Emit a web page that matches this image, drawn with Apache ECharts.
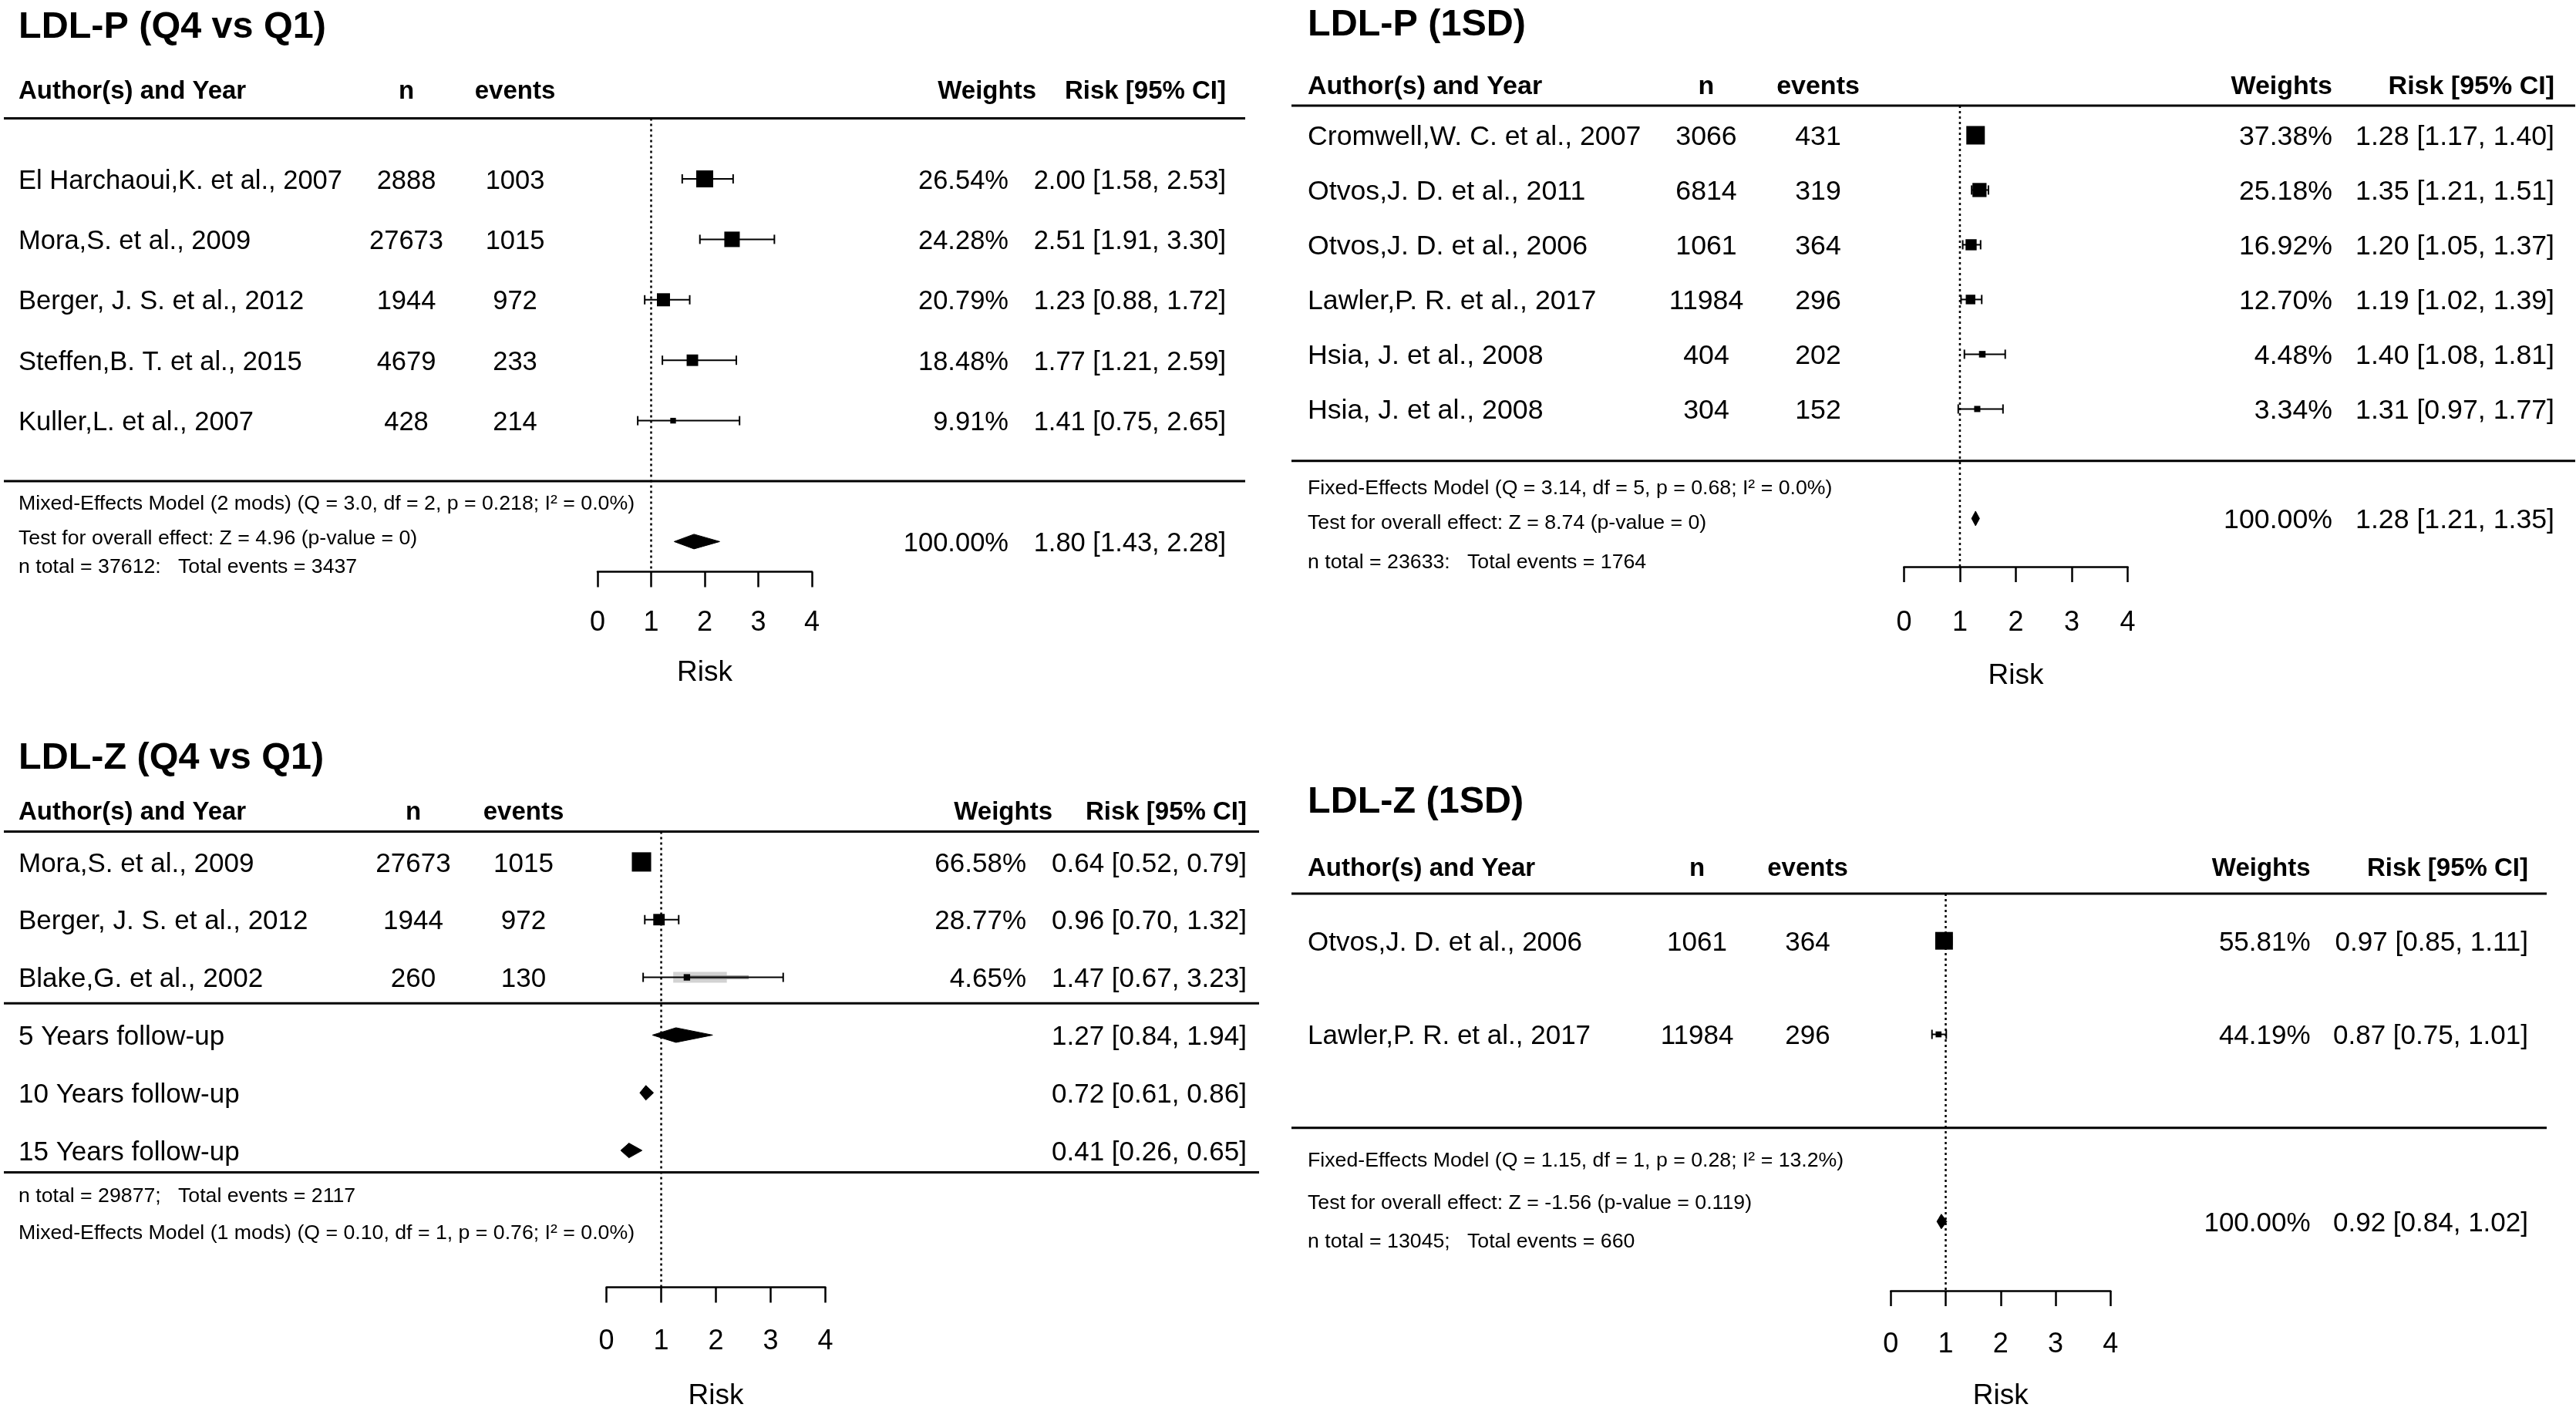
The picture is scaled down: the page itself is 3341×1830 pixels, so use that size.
<!DOCTYPE html>
<html><head><meta charset="utf-8">
<script src="https://cdn.jsdelivr.net/npm/echarts@6/dist/echarts.min.js"></script>
<style>html,body{margin:0;padding:0;background:#fff}#c{width:3341px;height:1830px}</style>
</head><body><div id="c"></div><script>
// ---------- DATA ----------
const titles = ['LDL-P (Q4 vs Q1)', 'LDL-P (1SD)', 'LDL-Z (Q4 vs Q1)', 'LDL-Z (1SD)'];
const headerLabels = ['Author(s) and Year', 'n', 'events', 'Weights', 'Risk [95% CI]'];
const axisName = 'Risk';
const refValue = 1;

// Panel 1: LDL-P (Q4 vs Q1)
const p1Authors = ['El Harchaoui,K. et al., 2007', 'Mora,S. et al., 2009', 'Berger, J. S. et al., 2012', 'Steffen,B. T. et al., 2015', 'Kuller,L. et al., 2007'];
const p1N = [2888, 27673, 1944, 4679, 428];
const p1Events = [1003, 1015, 972, 233, 214];
const p1Weights = [26.54, 24.28, 20.79, 18.48, 9.91];
const p1Est = [2.00, 2.51, 1.23, 1.77, 1.41];
const p1Lo = [1.58, 1.91, 0.88, 1.21, 0.75];
const p1Hi = [2.53, 3.30, 1.72, 2.59, 2.65];
const p1SumName = [''];
const p1SumWeight = ['100.00%'];
const p1SumEst = [1.80];
const p1SumLo = [1.43];
const p1SumHi = [2.28];
const p1Notes = ['Mixed-Effects Model (2 mods) (Q = 3.0, df = 2, p = 0.218; I\u00B2 = 0.0%)', 'Test for overall effect: Z = 4.96 (p-value = 0)', 'n total = 37612:   Total events = 3437'];

// Panel 2: LDL-P (1SD)
const p2Authors = ['Cromwell,W. C. et al., 2007', 'Otvos,J. D. et al., 2011', 'Otvos,J. D. et al., 2006', 'Lawler,P. R. et al., 2017', 'Hsia, J. et al., 2008', 'Hsia, J. et al., 2008'];
const p2N = [3066, 6814, 1061, 11984, 404, 304];
const p2Events = [431, 319, 364, 296, 202, 152];
const p2Weights = [37.38, 25.18, 16.92, 12.70, 4.48, 3.34];
const p2Est = [1.28, 1.35, 1.20, 1.19, 1.40, 1.31];
const p2Lo = [1.17, 1.21, 1.05, 1.02, 1.08, 0.97];
const p2Hi = [1.40, 1.51, 1.37, 1.39, 1.81, 1.77];
const p2SumName = [''];
const p2SumWeight = ['100.00%'];
const p2SumEst = [1.28];
const p2SumLo = [1.21];
const p2SumHi = [1.35];
const p2Notes = ['Fixed-Effects Model (Q = 3.14, df = 5, p = 0.68; I\u00B2 = 0.0%)', 'Test for overall effect: Z = 8.74 (p-value = 0)', 'n total = 23633:   Total events = 1764'];

// Panel 3: LDL-Z (Q4 vs Q1)
const p3Authors = ['Mora,S. et al., 2009', 'Berger, J. S. et al., 2012', 'Blake,G. et al., 2002'];
const p3N = [27673, 1944, 260];
const p3Events = [1015, 972, 130];
const p3Weights = [66.58, 28.77, 4.65];
const p3Est = [0.64, 0.96, 1.47];
const p3Lo = [0.52, 0.70, 0.67];
const p3Hi = [0.79, 1.32, 3.23];
const p3SumName = ['5 Years follow-up', '10 Years follow-up', '15 Years follow-up'];
const p3SumWeight = ['', '', ''];
const p3SumEst = [1.27, 0.72, 0.41];
const p3SumLo = [0.84, 0.61, 0.26];
const p3SumHi = [1.94, 0.86, 0.65];
const p3Notes = ['n total = 29877;   Total events = 2117', 'Mixed-Effects Model (1 mods) (Q = 0.10, df = 1, p = 0.76; I\u00B2 = 0.0%)'];
const p3BlakeBand = [[1.22, 2.20], [1.50, 2.60]];

// Panel 4: LDL-Z (1SD)
const p4Authors = ['Otvos,J. D. et al., 2006', 'Lawler,P. R. et al., 2017'];
const p4N = [1061, 11984];
const p4Events = [364, 296];
const p4Weights = [55.81, 44.19];
const p4Est = [0.97, 0.87];
const p4Lo = [0.85, 0.75];
const p4Hi = [1.11, 1.01];
const p4SumName = [''];
const p4SumWeight = ['100.00%'];
const p4SumEst = [0.92];
const p4SumLo = [0.84];
const p4SumHi = [1.02];
const p4Notes = ['Fixed-Effects Model (Q = 1.15, df = 1, p = 0.28; I\u00B2 = 13.2%)', 'Test for overall effect: Z = -1.56 (p-value = 0.119)', 'n total = 13045;   Total events = 660'];

// ---------- LAYOUT ----------
const FF = '"Liberation Sans", Arial, Helvetica, sans-serif';
const TY = 3; // text baseline nudge (px)
const panels = [
  {authors:p1Authors,n:p1N,events:p1Events,weights:p1Weights,est:p1Est,lo:p1Lo,hi:p1Hi,
   sumName:p1SumName,sumWeight:p1SumWeight,sumEst:p1SumEst,sumLo:p1SumLo,sumHi:p1SumHi,notes:p1Notes},
  {authors:p2Authors,n:p2N,events:p2Events,weights:p2Weights,est:p2Est,lo:p2Lo,hi:p2Hi,
   sumName:p2SumName,sumWeight:p2SumWeight,sumEst:p2SumEst,sumLo:p2SumLo,sumHi:p2SumHi,notes:p2Notes},
  {authors:p3Authors,n:p3N,events:p3Events,weights:p3Weights,est:p3Est,lo:p3Lo,hi:p3Hi,
   sumName:p3SumName,sumWeight:p3SumWeight,sumEst:p3SumEst,sumLo:p3SumLo,sumHi:p3SumHi,notes:p3Notes,
   band:p3BlakeBand, bandRow:2},
  {authors:p4Authors,n:p4N,events:p4Events,weights:p4Weights,est:p4Est,lo:p4Lo,hi:p4Hi,
   sumName:p4SumName,sumWeight:p4SumWeight,sumEst:p4SumEst,sumLo:p4SumLo,sumHi:p4SumHi,notes:p4Notes}
];
const layout = [
  {grid:{left:775,top:153.6,width:278,height:588}, yMin:0, yMax:7.5, rows:[1,2,3,4,5], sumRows:[7],
   rules:[0,6], ruleX:[5,1615], titleU:-1.513, hdrU:-0.485, noteU:[6.34,6.92,7.39],
   cols:{author:24,n:527,events:668,weight:1308,risk:1590,hW:1344,hR:1590}, font:34.5, hfont:33, box:14.7,
   labelMargin:48, nameGap:112.5},
  {grid:{left:2469.4,top:137.1,width:290.2,height:597.8}, yMin:0.46, yMax:8.88, rows:[1,2,3,4,5,6], sumRows:[8],
   rules:[0.46,6.95], ruleX:[1675,3340], titleU:-1.02, hdrU:0.079, noteU:[7.41,8.04,8.76],
   cols:{author:1696,n:2213,events:2358,weight:3025,risk:3313,hW:3025,hR:3313}, font:35.7, hfont:34, box:16,
   labelMargin:55, nameGap:123.5},
  {grid:{left:786.6,top:1078.6,width:283.8,height:592.1}, yMin:0.475, yMax:8.37, rows:[1,2,3], sumRows:[4,5,6],
   rules:[0.475,3.45,6.38], ruleX:[5,1633], titleU:-0.813, hdrU:0.107, noteU:[6.75,7.4],
   cols:{author:24,n:536,events:679,weight:1331,risk:1617,hW:1365,hR:1617}, font:35, hfont:33, box:16.7,
   labelMargin:53, nameGap:122.5},
  {grid:{left:2452.3,top:1158.9,width:284.9,height:516.2}, yMin:0.495, yMax:4.74, rows:[1,2], sumRows:[4],
   rules:[0.495,3.0], ruleX:[1675,3303], titleU:-0.491, hdrU:0.206, noteU:[3.33,3.78,4.19],
   cols:{author:1696,n:2201,events:2344.5,weight:2996.6,risk:3279,hW:2996.6,hR:3279}, font:35, hfont:33, box:15.3,
   labelMargin:52.5, nameGap:118}
];
const BAND_STYLE = [{h:14, c:'#d2d2d2'}, {h:5, c:'#9c9c9c'}];

function fmt(v){ return v.toFixed(2); }
function txt(x, y, s, size, align, bold){
  return {type:'text', x:x, y:y + TY, silent:true,
    style:{text:s, fontSize:size, fontFamily:FF, fontWeight:bold?'bold':'normal', fill:'#000',
      align:align, verticalAlign:'middle', textAlign:align, textVerticalAlign:'middle'}};
}

function frameRender(k){
  const Lp = layout[k], P = panels[k], C = Lp.cols;
  return function(params, api){
    const Y = u => api.coord([0, u])[1];
    const ch = [];
    ch.push(txt(C.author, Y(Lp.titleU) - 2, titles[k], 48.5, 'left', true));
    const hy = Y(Lp.hdrU);
    ch.push(txt(C.author, hy, headerLabels[0], Lp.hfont, 'left', true));
    ch.push(txt(C.n, hy, headerLabels[1], Lp.hfont, 'center', true));
    ch.push(txt(C.events, hy, headerLabels[2], Lp.hfont, 'center', true));
    ch.push(txt(C.hW, hy, headerLabels[3], Lp.hfont, 'right', true));
    ch.push(txt(C.hR, hy, headerLabels[4], Lp.hfont, 'right', true));
    Lp.rules.forEach(u => {
      const y = Y(u);
      ch.push({type:'line', shape:{x1:Lp.ruleX[0], y1:y, x2:Lp.ruleX[1], y2:y}, style:{stroke:'#000', lineWidth:3}});
    });
    P.notes.forEach((s, i) => ch.push(txt(C.author, Y(Lp.noteU[i]), s, 26.7, 'left', false)));
    const r1 = api.coord([refValue, Lp.yMin]), r2 = api.coord([refValue, Lp.yMax]);
    ch.push({type:'line', shape:{x1:r1[0], y1:r1[1], x2:r2[0], y2:r2[1]}, style:{stroke:'#000', lineWidth:2.5, lineDash:[3,4]}});
    return {type:'group', children:ch};
  };
}

function studyRender(k){
  const Lp = layout[k], P = panels[k], C = Lp.cols;
  const wmin = Math.min(...P.weights), wmax = Math.max(...P.weights);
  return function(params, api){
    const i = params.dataIndex;
    const est = api.value(0), u = api.value(1), lo = api.value(2), hi = api.value(3), w = api.value(4);
    const pE = api.coord([est, u]), pL = api.coord([lo, u]), pH = api.coord([hi, u]);
    const y = pE[1];
    const s = Lp.box * (0.5 + (w - wmin) / (wmax - wmin));
    const ch = [];
    if (P.band && i === P.bandRow) {
      P.band.forEach((b, j) => {
        const a = api.coord([b[0], u])[0], c = api.coord([b[1], u])[0];
        const st = BAND_STYLE[j];
        ch.push({type:'rect', shape:{x:a, y:y - st.h/2, width:c - a, height:st.h}, style:{fill:st.c}});
      });
    }
    ch.push({type:'line', shape:{x1:pL[0], y1:y, x2:pH[0], y2:y}, style:{stroke:'#000', lineWidth:2}});
    ch.push({type:'line', shape:{x1:pL[0], y1:y-6, x2:pL[0], y2:y+6}, style:{stroke:'#000', lineWidth:2}});
    ch.push({type:'line', shape:{x1:pH[0], y1:y-6, x2:pH[0], y2:y+6}, style:{stroke:'#000', lineWidth:2}});
    ch.push({type:'rect', shape:{x:pE[0]-s/2, y:y-s/2, width:s, height:s}, style:{fill:'#000'}});
    ch.push(txt(C.author, y, P.authors[i], Lp.font, 'left', false));
    ch.push(txt(C.n, y, String(P.n[i]), Lp.font, 'center', false));
    ch.push(txt(C.events, y, String(P.events[i]), Lp.font, 'center', false));
    ch.push(txt(C.weight, y, fmt(w) + '%', Lp.font, 'right', false));
    ch.push(txt(C.risk, y, fmt(est) + ' [' + fmt(lo) + ', ' + fmt(hi) + ']', Lp.font, 'right', false));
    return {type:'group', children:ch};
  };
}

function sumRender(k){
  const Lp = layout[k], P = panels[k], C = Lp.cols;
  return function(params, api){
    const i = params.dataIndex;
    const est = api.value(0), u = api.value(1), lo = api.value(2), hi = api.value(3);
    const pE = api.coord([est, u]), pL = api.coord([lo, u]), pH = api.coord([hi, u]);
    const y = pE[1], hh = 9.5;
    const ch = [];
    ch.push({type:'polygon', shape:{points:[[pL[0], y], [pE[0], y-hh], [pH[0], y], [pE[0], y+hh]]}, style:{fill:'#000', stroke:'#000', lineWidth:1}});
    if (P.sumName[i]) ch.push(txt(C.author, y, P.sumName[i], Lp.font, 'left', false));
    if (P.sumWeight[i]) ch.push(txt(C.weight, y, P.sumWeight[i], Lp.font, 'right', false));
    ch.push(txt(C.risk, y, fmt(est) + ' [' + fmt(lo) + ', ' + fmt(hi) + ']', Lp.font, 'right', false));
    return {type:'group', children:ch};
  };
}

const grids = [], xAxes = [], yAxes = [], series = [];
layout.forEach((Lp, k) => {
  const P = panels[k];
  grids.push(Object.assign({containLabel:false}, Lp.grid));
  xAxes.push({type:'value', gridIndex:k, min:0, max:4, interval:1, position:'bottom',
    axisLine:{show:true, onZero:false, lineStyle:{color:'#000', width:2.5}},
    axisTick:{show:true, inside:false, length:20, lineStyle:{color:'#000', width:2.5}},
    axisLabel:{show:true, color:'#000', fontSize:36, fontFamily:FF, margin:Lp.labelMargin, showMinLabel:true, showMaxLabel:true},
    splitLine:{show:false},
    name:axisName, nameLocation:'middle', nameGap:Lp.nameGap, nameTextStyle:{color:'#000', fontSize:37, fontFamily:FF}});
  yAxes.push({type:'value', gridIndex:k, inverse:true, min:Lp.yMin, max:Lp.yMax, show:false, splitLine:{show:false}});
  series.push({type:'custom', xAxisIndex:k, yAxisIndex:k, silent:true, clip:false, z:1,
    data:[[0, Lp.yMin]], renderItem:frameRender(k)});
  series.push({type:'custom', xAxisIndex:k, yAxisIndex:k, silent:true, clip:false, z:2,
    data:P.est.map((e, i) => [e, Lp.rows[i], P.lo[i], P.hi[i], P.weights[i]]), renderItem:studyRender(k)});
  series.push({type:'custom', xAxisIndex:k, yAxisIndex:k, silent:true, clip:false, z:2,
    data:P.sumEst.map((e, i) => [e, Lp.sumRows[i], P.sumLo[i], P.sumHi[i]]), renderItem:sumRender(k)});
});

const chart = echarts.init(document.getElementById('c'), null, {renderer:'canvas'});
chart.setOption({backgroundColor:'#fff', animation:false, grid:grids, xAxis:xAxes, yAxis:yAxes, series:series});
</script></body></html>
